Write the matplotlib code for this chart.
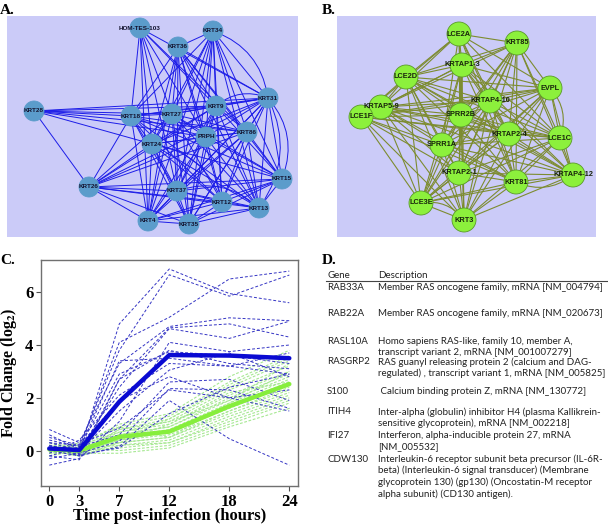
import itertools
import matplotlib
matplotlib.use("Agg")
import matplotlib.pyplot as plt
from matplotlib.patches import Circle, FancyArrowPatch

plt.rcParams['mathtext.fontset'] = 'stix'

# ---------------- Panel A network data ----------------
nodes_a = ["HOM-TES-103", "KRT34", "KRT36", "KRT31", "KRT9", "KRT28", "KRT18", "KRT27",
           "KRT86", "PRPH", "KRT24", "KRT15", "KRT26", "KRT37", "KRT12", "KRT13", "KRT4", "KRT35"]
layout_a_x = [140, 213, 178, 268, 216, 34, 131, 172, 247, 206, 152, 282, 89, 177, 222, 259, 148, 189]
layout_a_y = [28, 31, 47, 98, 106, 111, 116, 114, 132, 137, 144, 179, 187, 191, 202, 208, 221, 224]
core_a = ["KRT34", "KRT36", "KRT31", "KRT9", "KRT18", "KRT27", "KRT86", "PRPH", "KRT24",
          "KRT15", "KRT37", "KRT12", "KRT13", "KRT4", "KRT35"]
extra_edges_a = [("HOM-TES-103", n) for n in ["KRT18", "KRT24", "KRT27", "KRT9", "KRT31", "KRT37", "KRT4", "PRPH", "KRT86"]] + \
                [("KRT28", n) for n in ["KRT18", "KRT27", "KRT9", "KRT31", "PRPH", "KRT24", "KRT26", "KRT86"]] + \
                [("KRT26", n) for n in ["KRT18", "KRT24", "KRT27", "KRT9", "KRT37", "KRT4", "KRT35", "KRT12",
                                        "KRT15", "KRT31", "PRPH", "KRT86", "KRT13"]]
curved_edges_a = [("KRT34", "KRT31"), ("KRT31", "KRT15"), ("KRT31", "KRT13"), ("KRT37", "KRT13"),
                  ("KRT9", "KRT31"), ("KRT24", "KRT12")]

# ---------------- Panel B network data ----------------
nodes_b = ["LCE2A", "KRT85", "KRTAP1-3", "LCE2D", "EVPL", "KRTAP4-10", "KRTAP5-9", "SPRR2B", "LCE1F",
           "KRTAP2-4", "LCE1C", "SPRR1A", "KRTAP2-1", "KRT81", "KRTAP4-12", "LCE3E", "KRT3"]
layout_b_x = [459, 517, 462, 406, 550, 490, 381, 461, 361, 509, 560, 442, 459, 516, 573, 421, 464]
layout_b_y = [34, 43, 65, 77, 88, 101, 107, 115, 117, 134, 138, 145, 173, 182, 175, 203, 220]
missing_edges_b = [("LCE2A", "LCE3E"), ("LCE1F", "KRTAP4-12"), ("LCE2A", "KRTAP4-12"), ("KRT85", "LCE1F")]
curved_edges_b = [("EVPL", "LCE1C"), ("KRTAP4-12", "KRT81"), ("LCE3E", "KRT3")]

# ---------------- Panel C time-course data ----------------
times = [0, 3, 7, 12, 18, 24]
time_labels = ["0", "3", "7", "12", "18", "24"]
blue_mean = [0.08, 0.02, 1.85, 3.62, 3.60, 3.50]
green_mean = [0.05, 0.0, 0.52, 0.72, 1.68, 2.52]
blue_lines = [
    [0.2, -0.1, 4.8, 6.88, 5.95, 5.6],
    [0.5, 0.2, 3.8, 6.66, 5.85, 6.65],
    [-0.2, 0.1, 4.1, 5.05, 6.5, 6.8],
    [0.8, 0.3, 3.3, 4.7, 5.03, 4.92],
    [0.0, -0.2, 2.7, 4.65, 4.8, 4.3],
    [0.3, 0.0, 2.4, 4.62, 4.25, 4.9],
    [-0.55, -0.3, 1.1, 4.1, 3.75, 4.0],
    [0.1, 0.1, 2.9, 3.75, 3.6, 3.3],
    [-0.1, 0.4, 2.1, 3.3, 3.2, 2.9],
    [0.2, -0.05, 1.5, 3.05, 3.7, 2.8],
    [0.4, 0.15, 0.6, 2.6, 2.7, 1.9],
    [-0.3, -0.1, 0.35, 2.35, 2.3, 1.6],
    [0.0, 0.25, 0.85, 2.3, 2.0, 1.5],
    [0.15, -0.2, 0.15, 1.9, 0.45, -0.55],
    [0.6, 0.05, 3.4, 3.5, 3.2, 3.7],
    [-0.2, -0.35, 2.7, 3.8, 3.3, 3.1],
    [0.3, 0.2, 1.9, 2.8, 2.0, 2.3],
    [0.1, -0.15, 0.1, 1.4, 2.4, 2.9],
]
green_lines = [
    [0.1, 0.2, 1.0, 1.4, 2.8, 3.8],
    [0.0, 0.1, 0.9, 1.3, 2.6, 3.6],
    [0.2, -0.1, 0.8, 1.2, 2.4, 3.4],
    [-0.1, 0.0, 0.7, 1.1, 2.3, 3.2],
    [0.1, 0.2, 0.7, 1.0, 2.1, 3.0],
    [0.3, 0.1, 0.6, 0.9, 2.0, 2.9],
    [0.0, -0.2, 0.6, 0.9, 1.9, 2.8],
    [0.2, 0.0, 0.5, 0.8, 1.8, 2.7],
    [-0.1, 0.1, 0.5, 0.7, 1.7, 2.6],
    [0.1, -0.1, 0.4, 0.7, 1.6, 2.5],
    [0.0, 0.0, 0.4, 0.6, 1.5, 2.4],
    [0.2, 0.2, 0.3, 0.5, 1.5, 2.3],
    [-0.1, -0.1, 0.3, 0.5, 1.4, 2.2],
    [0.1, 0.1, 0.2, 0.4, 1.3, 2.1],
    [0.0, -0.2, 0.2, 0.3, 1.2, 2.0],
    [0.2, 0.0, 0.1, 0.3, 1.1, 1.9],
    [-0.1, 0.1, 0.0, 0.2, 1.0, 1.8],
    [0.1, -0.1, -0.1, 0.1, 0.9, 1.6],
    [0.0, 0.3, 0.9, 0.5, 1.8, 3.0],
    [0.2, -0.2, 0.3, 1.0, 2.2, 2.6],
    [-0.2, 0.0, 0.8, 1.1, 1.9, 3.3],
    [0.1, 0.1, 0.4, 1.2, 2.5, 3.5],
]

# ---------------- Panel D table data ----------------
table_header = ["Gene", "Description"]
genes = ["RAB33A", "RAB22A", "RASL10A", "RASGRP2", "S100", "ITIH4", "IFI27", "CDW130"]
descriptions = [
    ["Member RAS oncogene family, mRNA [NM_004794]"],
    ["Member RAS oncogene family, mRNA [NM_020673]"],
    ["Homo sapiens RAS-like, family 10, member A,", "transcript variant 2, mRNA [NM_001007279]"],
    ["RAS guanyl releasing protein 2 (calcium and DAG-", "regulated) , transcript variant 1, mRNA [NM_005825]"],
    [" Calcium binding protein Z, mRNA [NM_130772]"],
    ["Inter-alpha (globulin) inhibitor H4 (plasma Kallikrein-", "sensitive glycoprotein), mRNA [NM_002218]"],
    ["Interferon, alpha-inducible protein 27, mRNA", "[NM_005532]"],
    ["Interleukin-6 receptor subunit beta precursor (IL-6R-", "beta) (Interleukin-6 signal transducer) (Membrane",
     "glycoprotein 130) (gp130) (Oncostatin-M receptor", "alpha subunit) (CD130 antigen)."],
]
row_y = [288, 313, 341, 362, 391, 412, 435, 459]   # layout (pixels)
line_step = 11.6

# ---------------- Figure ----------------
W, H = 608, 526
fig = plt.figure(figsize=(W / 100, H / 100), dpi=100)
BG = "#cbcbf8"


def px_axes(l, t, r, b):
    ax = fig.add_axes([l / W, 1 - b / H, (r - l) / W, (b - t) / H])
    ax.set_xlim(l, r)
    ax.set_ylim(b, t)
    return ax


def draw_net(ax, names, xs, ys, edges, curved, ecol, ncol, necol, radius, fsize, tcol, elw):
    pos = {n: (x, y) for n, x, y in zip(names, xs, ys)}
    for a, b in edges:
        (x1, y1), (x2, y2) = pos[a], pos[b]
        ax.plot([x1, x2], [y1, y2], color=ecol, lw=elw, zorder=1, solid_capstyle='round')
    for a, b in curved:
        p = FancyArrowPatch(pos[a], pos[b], connectionstyle="arc3,rad=-0.3", arrowstyle='-',
                            color=ecol, lw=elw, zorder=1)
        ax.add_patch(p)
    for n in names:
        ax.add_patch(Circle(pos[n], radius, facecolor=ncol, edgecolor=necol, lw=0.6, zorder=2))
        ax.text(pos[n][0], pos[n][1], n, ha='center', va='center', fontsize=fsize,
                fontweight='bold', color=tcol, family='Liberation Sans', zorder=3)


# Panel A
axA = px_axes(7, 16, 298, 237)
axA.set_facecolor(BG)
axA.set_xticks([]); axA.set_yticks([])
for s in axA.spines.values():
    s.set_visible(False)
edges_a = list(itertools.combinations(core_a, 2)) + extra_edges_a
draw_net(axA, nodes_a, layout_a_x, layout_a_y, edges_a, curved_edges_a,
         "#1c1ce8", "#5b9ccb", "#5b9ccb", 10, 4.6, "#141430", 0.7)

# Panel B
axB = px_axes(337, 16, 596, 237)
axB.set_facecolor(BG)
axB.set_xticks([]); axB.set_yticks([])
for s in axB.spines.values():
    s.set_visible(False)
miss = set(frozenset(e) for e in missing_edges_b)
edges_b = [e for e in itertools.combinations(nodes_b, 2) if frozenset(e) not in miss]
draw_net(axB, nodes_b, layout_b_x, layout_b_y, edges_b, curved_edges_b,
         "#7d8c30", "#8cf03c", "#5a9a2a", 12, 5.3, "#18240c", 0.8)

# Panel C
axC = fig.add_axes([41 / W, 1 - 486 / H, 257 / W, 226 / H])
for g in green_lines:
    axC.plot(times, g, color="#a6e892", lw=0.8, dashes=(2.5, 1.5), zorder=1)
for b in blue_lines:
    axC.plot(times, b, color="#3434c4", lw=0.7, dashes=(3, 2), zorder=2)
axC.plot(times, green_mean, color="#86ee3c", lw=3.2, zorder=3, solid_capstyle='round')
axC.plot(times, blue_mean, color="#0a0ad2", lw=3.2, zorder=4, solid_capstyle='round')
axC.set_xlim(-0.83, 24.87)
axC.set_ylim(-1.34, 7.22)
axC.set_xticks(times)
axC.set_xticklabels(time_labels)
axC.set_yticks([0, 2, 4, 6])
for s in axC.spines.values():
    s.set_color("#707070")
    s.set_linewidth(1.0)
axC.tick_params(axis='both', length=3.5, width=0.8, color="#505050", pad=2)
for lab in axC.get_xticklabels() + axC.get_yticklabels():
    lab.set_fontfamily('Liberation Serif')
    lab.set_fontweight('bold')
    lab.set_fontsize(12)
axC.set_xlabel("Time post-infection (hours)", family='Liberation Serif', fontweight='bold',
               fontsize=12, labelpad=-1)
axC.set_ylabel(r"Fold Change (log$_\mathbf{2}$)", family='Liberation Serif', fontweight='bold',
               fontsize=11.5, labelpad=4)

# Overlay for labels and table
ov = fig.add_axes([0, 0, 1, 1])
ov.set_xlim(0, W)
ov.set_ylim(H, 0)
ov.axis('off')
for lab, x, y in [("A.", 0, 10), ("B.", 322, 10), ("C.", 0, 260), ("D.", 322, 260)]:
    ov.text(x, y, lab, ha='left', va='center', family='Liberation Serif', fontweight='bold',
            fontsize=11, color='black')

tfont = dict(family='Lato', fontsize=7.0, color='#222222', va='center', ha='left')
ov.text(327, 276, table_header[0], **tfont)
ov.text(378, 276, table_header[1], **tfont)
ov.plot([326, 608], [280.5, 280.5], color='#444444', lw=0.8)
for g, d, y in zip(genes, descriptions, row_y):
    ov.text(327, y, g, **tfont)
    for i, line in enumerate(d):
        ov.text(378, y + i * line_step, line, **tfont)

fig.savefig("out.png", dpi=100)
